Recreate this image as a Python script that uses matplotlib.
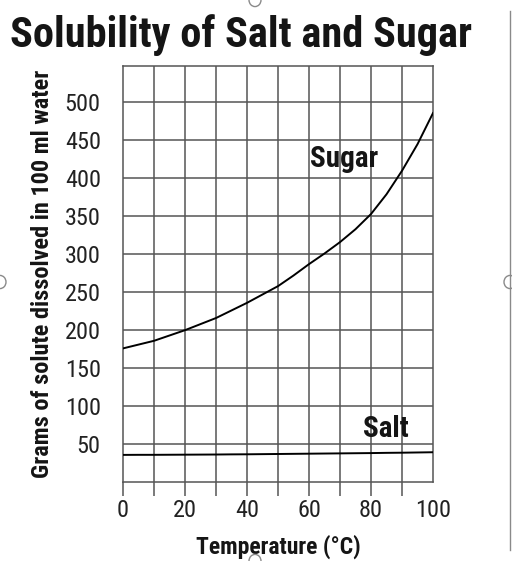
import matplotlib
matplotlib.use("Agg")
import matplotlib.pyplot as plt
from matplotlib.patches import Circle

# data
temps = [0, 5, 10, 15, 20, 25, 30, 35, 40, 45, 50, 55, 60, 65, 70, 75, 80, 85, 90, 95, 100]
sugar = [176, 181, 186, 193, 200, 208, 216, 226, 236, 247, 258, 272, 287, 301, 316, 333, 353, 379, 410, 445, 486]
salt = [35.7, 35.8, 35.8, 35.9, 36.0, 36.1, 36.2, 36.4, 36.5, 36.7, 36.9, 37.1, 37.3, 37.5, 37.7, 37.9, 38.1, 38.4, 38.6, 38.9, 39.2]
ytick_vals = [50, 100, 150, 200, 250, 300, 350, 400, 450, 500]
xtick_vals = [0, 20, 40, 60, 80, 100]

plt.rcParams['font.family'] = ['Roboto Condensed', 'DejaVu Sans']

grid_col = '#555555'
ink = '#151515'

W, H = 512, 561
fig = plt.figure(figsize=(W/100, H/100), dpi=100)
ax = fig.add_axes([123/W, 1-482/H, 310/W, 416/H])

ax.plot(temps, sugar, color='black', lw=1.4, zorder=3)
ax.plot(temps, salt, color='black', lw=1.4, zorder=3)

ax.set_xlim(0, 100)
ax.set_ylim(0, 548)

ax.set_xticks(range(0, 100, 10), minor=True)
ax.set_xticks(xtick_vals)
ax.set_yticks(ytick_vals)
ax.tick_params(axis='x', which='both', length=10, width=1.1, color=grid_col, direction='out')
ax.tick_params(axis='x', which='major', labelsize=17.5, pad=2)
ax.tick_params(axis='y', length=0, labelsize=17.5, pad=16)
ax.xaxis.get_major_ticks()[-1].tick1line.set_visible(False)
for t in ax.get_xticklabels() + ax.get_yticklabels():
    t.set_color('#222222')

for v in range(10, 100, 10):
    ax.axvline(v, color=grid_col, lw=1.1, zorder=1)
for v in range(50, 550, 50):
    ax.axhline(v, color=grid_col, lw=1.1, zorder=1)
for s in ax.spines.values():
    s.set_color(grid_col)
    s.set_linewidth(1.1)

ax.text(60.3, 426, 'Sugar', fontsize=21, fontweight='bold', va='center', ha='left', color=ink)
ax.text(77.4, 70, 'Salt', fontsize=21, fontweight='bold', va='center', ha='left', color=ink)

ax.set_xlabel('Temperature (°C)', fontsize=17, fontweight='bold', labelpad=9, color=ink)
ax.set_ylabel('Grams of solute dissolved in 100 ml water', fontsize=17.5, fontweight='bold',
              labelpad=8, color=ink)

fig.text(10/W, 1-35/H, 'Solubility of Salt and Sugar', fontsize=30.5, fontweight='bold',
         va='center', ha='left', color=ink)

# page frame and handles from the source screenshot
fig.add_artist(plt.Line2D([510/W, 510/W], [0.02, 0.98], color='#8a8a8a', lw=1))
for cx, cy in [(255, 0), (510, 282), (0, 282), (255, 561)]:
    fig.add_artist(Circle((cx/W, 1-cy/H), 6/W, transform=fig.transFigure, fill=False,
                          edgecolor='#8a8a8a', lw=1))

fig.savefig('out.png', dpi=100, facecolor='white')
